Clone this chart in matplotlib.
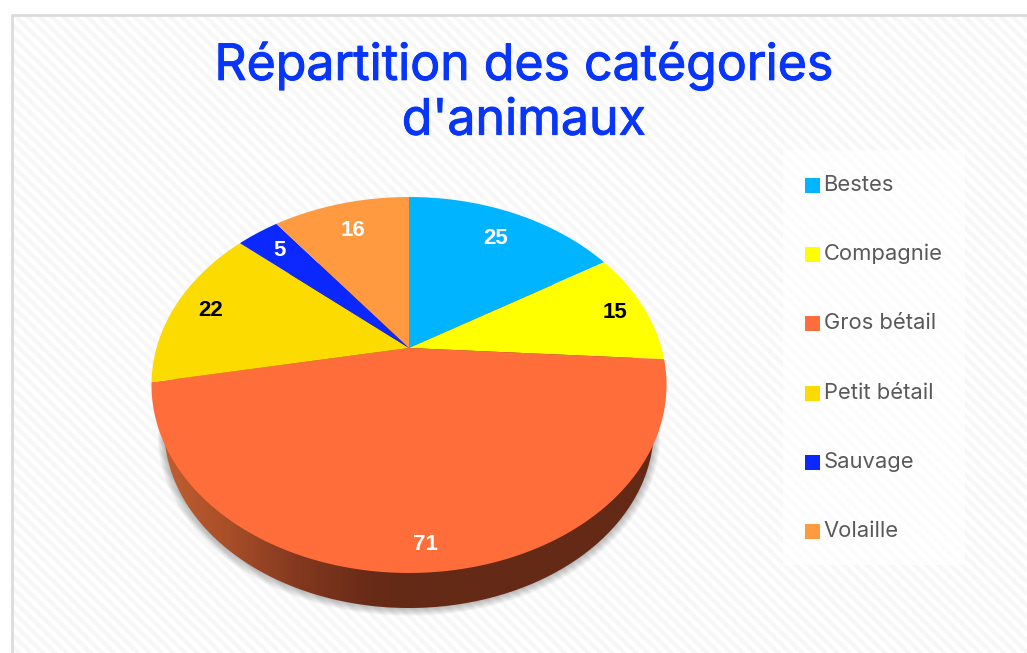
import numpy as np
import matplotlib
matplotlib.use("Agg")
import matplotlib.pyplot as plt
import matplotlib.patheffects as pe
from matplotlib.colors import LinearSegmentedColormap
from matplotlib.patches import Rectangle, Polygon

categories = ["Bestes", "Compagnie", "Gros bétail", "Petit bétail", "Sauvage", "Volaille"]
values = [25, 15, 71, 22, 5, 16]
colors = ["#00B4FF", "#FFFF00", "#FF6E3A", "#FCDC00", "#0A28FF", "#FF9A40"]
label_colors = ["white", "black", "white", "black", "white", "white"]
title = "Répartition des catégories\nd'animaux"

W, H = 1027, 653
fig = plt.figure(figsize=(W / 100, H / 100), dpi=100, facecolor="white")
ax = fig.add_axes([0, 0, 1, 1])

# Background texture: diagonal stripes
yy, xx = np.mgrid[0:H, 0:W]
stripe = ((xx - yy) % 12) < 6
tex = np.where(stripe, 0.965, 1.0)
ax.imshow(tex, cmap="gray", vmin=0, vmax=1, extent=(12, W, H, 15), zorder=0,
          interpolation="bilinear", aspect="auto")
ax.set_xlim(0, W)
ax.set_ylim(H, 0)
ax.axis("off")
ax.plot([11.5, 11.5, W], [H, 14.5, 14.5], color="#DCDCDC", lw=2, zorder=1)

# Perspective projection of the pie disc
CX, CY, A, B, K = 409.0, 348.0, 180.7, 252.5, 0.1968
BOTTOM_SCALE, BOTTOM_Y = 0.95, 608.0


def project(theta):
    u, v = np.sin(theta), np.cos(theta)
    w = 1 + K * v
    return CX + B * u / w, CY - A * v / w


fractions = np.array(values, dtype=float) / sum(values)
edges = np.concatenate([[0], np.cumsum(fractions)]) * 2 * np.pi

t_all = np.linspace(0, 2 * np.pi, 720)
sx, sy = project(t_all)
# Lower disc = smaller copy of the top disc, sitting lower
bx = CX + (sx - CX) * BOTTOM_SCALE
by = BOTTOM_Y - (sy.max() - sy) * BOTTOM_SCALE

# Soft shadow under the disc
for grow in np.linspace(7, 0.5, 10):
    ax.fill(CX + (bx - CX) * (1 + grow / 250), by + grow * 0.75 + (by - by.mean()) * grow / 500,
            color="black", alpha=0.028, lw=0, zorder=2)

# Side wall with horizontal gradient
wall_cmap = LinearSegmentedColormap.from_list(
    "wall",
    [(0.0, "#C05E30"), (0.13, "#A84E28"), (0.27, "#84391F"), (0.42, "#682B17"),
     (0.50, "#642A16"), (1.0, "#642A16")],
)
grad = np.linspace(0, 1, 512)[None, :]
im = ax.imshow(grad, cmap=wall_cmap, extent=(bx.min(), bx.max(), by.max(), by.min()),
               aspect="auto", zorder=3)
clip = Polygon(np.c_[bx, by], closed=True, transform=ax.transData, fc="none", ec="none")
ax.add_patch(clip)
im.set_clip_path(clip)
ax.set_xlim(0, W)
ax.set_ylim(H, 0)

# Top face wedges
for i, val in enumerate(values):
    t = np.linspace(edges[i], edges[i + 1], 300)
    x, y = project(t)
    ax.fill(np.r_[CX, x], np.r_[CY, y], color=colors[i], lw=0, zorder=4)

# Value labels (position along mid-angle at a radial fraction)
radii = [0.80, 0.875, 0.89, 0.85, 0.84, 0.80]
for i, val in enumerate(values):
    m = (edges[i] + edges[i + 1]) / 2
    u, v = np.sin(m) * radii[i], np.cos(m) * radii[i]
    w = 1 + K * v
    ax.text(CX + B * u / w, CY - A * v / w + 1.5, str(val), color=label_colors[i],
            fontsize=16, fontweight="bold", family="Liberation Sans",
            ha="center", va="center", zorder=6)

# Title
ax.text(524, 93, title, color="#0835FA", fontsize=36, family="Inter",
        ha="center", va="center", linespacing=1.21, zorder=6,
        path_effects=[pe.withStroke(linewidth=0.7, foreground="#0835FA")])

# Legend
ax.add_patch(Rectangle((783, 150), 182, 415, facecolor="white", alpha=0.72, lw=0, zorder=5))
for i, name in enumerate(categories):
    yc = 185 + i * 69.2
    ax.add_patch(Rectangle((805, yc - 7), 15, 15, facecolor=colors[i], lw=0, zorder=6))
    ax.text(823.5, yc, name, color="#595959", fontsize=15.8, family="Inter",
            ha="left", va="center", zorder=6)

fig.savefig("out.png", dpi=100, facecolor="white")
